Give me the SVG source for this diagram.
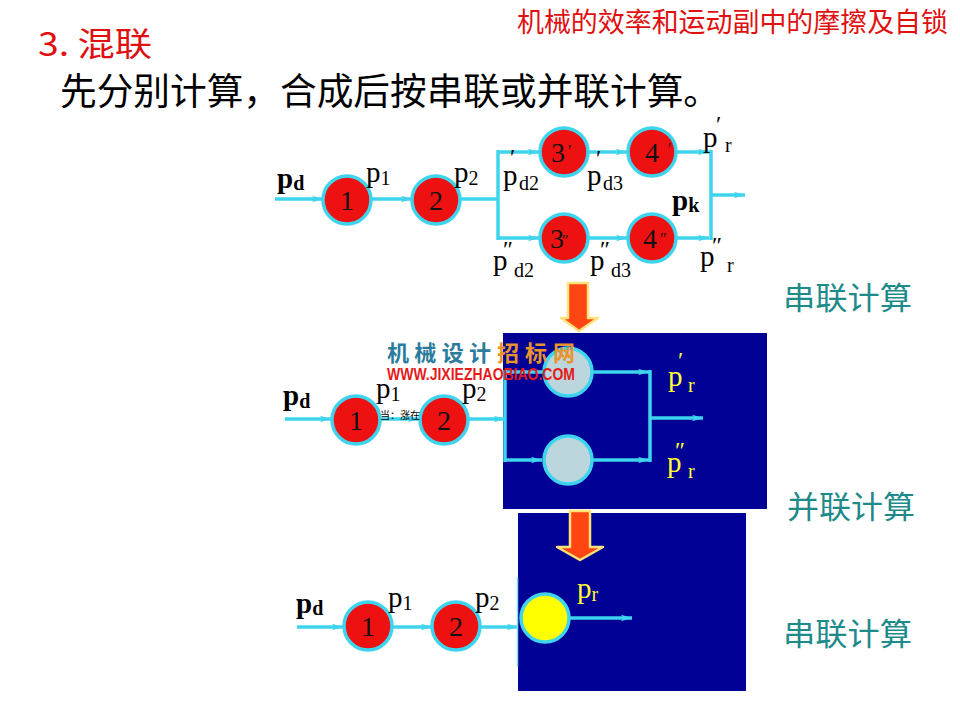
<svg xmlns="http://www.w3.org/2000/svg" width="960" height="720" viewBox="0 0 960 720">
<style>
.bg{fill:#ffffff}
.cjk{font-family:"Noto Sans CJK SC","Noto Sans",sans-serif}
.ser{font-family:"Liberation Serif","Times New Roman",serif}
.ln{stroke:#3fd4ee;stroke-width:3.5;fill:none}
.nd{fill:#ee1111;stroke:#3fd4ee;stroke-width:3.5}
.gy{fill:#bcd6de;stroke:#3fd4ee;stroke-width:3.5}
.yl{fill:#ffff00;stroke:#3fd4ee;stroke-width:3.5}
.num{font-family:"Liberation Serif","Times New Roman",serif;font-size:28px;fill:#111;text-anchor:middle}
.lb{font-family:"Liberation Serif","Times New Roman",serif;font-size:29px;fill:#000}
.lby{font-family:"Liberation Serif","Times New Roman",serif;font-size:29px;fill:#ffff33}
.sub{font-size:20px}
.pr{font-size:24px}
.cp{font-family:"Liberation Serif","Times New Roman",serif;font-size:16px;fill:#111}
.teal{fill:#1e8a8a;font-size:31px}
.panel{fill:#010196}
.dn{fill:#ff4512;stroke:#ffe27a;stroke-width:2.5;stroke-linejoin:round}
</style>
<defs>
<marker id="ah" markerUnits="userSpaceOnUse" markerWidth="12" markerHeight="8" refX="11" refY="4" orient="auto">
<path d="M0,0.8 L11,4 L0,7.2 L2.5,4 z" fill="#3fd4ee"/>
</marker>
</defs>
<rect class="bg" x="0" y="0" width="960" height="720"/>

<g id="title">
<text class="cjk" x="38" y="56" font-size="33" fill="#e01010" textLength="114" lengthAdjust="spacingAndGlyphs">3. 混联</text>
<text class="cjk" x="60" y="105" font-size="37" fill="#000" textLength="660" lengthAdjust="spacingAndGlyphs">先分别计算，合成后按串联或并联计算。</text>
<text class="cjk" x="517" y="32" font-size="27" fill="#e01010" textLength="431" lengthAdjust="spacingAndGlyphs">机械的效率和运动副中的摩擦及自锁</text>
</g>

<g id="panels">
<rect class="panel" x="503" y="333" width="264" height="176"/>
<rect class="panel" x="518" y="513" width="228" height="178"/>
</g>

<g id="connectors">
<line class="ln" x1="275" y1="199" x2="323" y2="199" marker-end="url(#ah)"/>
<line class="ln" x1="371" y1="199" x2="412" y2="199" marker-end="url(#ah)"/>
<line class="ln" x1="460" y1="199" x2="499" y2="199"/>
<line class="ln" x1="498" y1="150" x2="498" y2="240"/>
<line class="ln" x1="498" y1="152" x2="539" y2="152" marker-end="url(#ah)"/>
<line class="ln" x1="498" y1="238" x2="539" y2="238" marker-end="url(#ah)"/>
<line class="ln" x1="588" y1="152" x2="627" y2="152" marker-end="url(#ah)"/>
<line class="ln" x1="588" y1="238" x2="627" y2="238" marker-end="url(#ah)"/>
<line class="ln" x1="677" y1="152" x2="709" y2="152" marker-end="url(#ah)"/>
<line class="ln" x1="677" y1="238" x2="709" y2="238" marker-end="url(#ah)"/>
<line class="ln" x1="711" y1="150" x2="711" y2="240"/>
<line class="ln" x1="711" y1="195" x2="745" y2="195" marker-end="url(#ah)"/>
<line class="ln" x1="285" y1="419" x2="331" y2="419" marker-end="url(#ah)"/>
<line class="ln" x1="380" y1="419" x2="419" y2="419" marker-end="url(#ah)"/>
<line class="ln" x1="468" y1="419" x2="505" y2="419" marker-end="url(#ah)"/>
<line class="ln" x1="505" y1="370" x2="505" y2="462"/>
<line class="ln" x1="505" y1="372" x2="543" y2="372"/>
<line class="ln" x1="505" y1="460" x2="542" y2="460" marker-end="url(#ah)"/>
<line class="ln" x1="592" y1="372" x2="649" y2="372" marker-end="url(#ah)"/>
<line class="ln" x1="592" y1="460" x2="649" y2="460" marker-end="url(#ah)"/>
<line class="ln" x1="650" y1="370" x2="650" y2="462"/>
<line class="ln" x1="650" y1="418" x2="703" y2="418" marker-end="url(#ah)"/>
<line class="ln" x1="297" y1="627" x2="343" y2="627" marker-end="url(#ah)"/>
<line class="ln" x1="393" y1="627" x2="432" y2="627" marker-end="url(#ah)"/>
<line class="ln" x1="480" y1="627" x2="518" y2="627" marker-end="url(#ah)"/>
<line x1="517.5" y1="577" x2="517.5" y2="667" stroke="#7fe0f2" stroke-width="1.5"/>
<line class="ln" x1="570" y1="618" x2="632" y2="618" marker-end="url(#ah)"/>
</g>

<g id="arrows">
<polygon class="dn" points="568,283 588,283 588,318 598,318 579,331 561,318 568,318"/>
<polygon class="dn" points="570,511 590,511 590,547 603,547 580,560 557,547 570,547"/>
</g>

<g id="top-diagram">
<g id="t-n1"><circle class="nd" cx="347" cy="200" r="24"/><text class="num" x="347" y="210">1</text></g>
<g id="t-n2"><circle class="nd" cx="436" cy="200" r="24"/><text class="num" x="436" y="210">2</text></g>
<g id="t-n3a"><circle class="nd" cx="564" cy="152" r="24"/><text class="num" x="558" y="162">3</text><text class="cp" x="568" y="156">′</text></g>
<g id="t-n4a"><circle class="nd" cx="652" cy="152" r="24"/><text class="num" x="652" y="162">4</text><text class="cp" x="668" y="154">′</text></g>
<g id="t-n3b"><circle class="nd" cx="564" cy="238" r="24"/><text class="num" x="557" y="248">3</text><text class="cp" x="562" y="246">″</text></g>
<g id="t-n4b"><circle class="nd" cx="652" cy="238" r="24"/><text class="num" x="650" y="248">4</text><text class="cp" x="660" y="244">″</text></g>
<g id="t-labels">
<text class="lb" x="277" y="188" font-weight="bold">p<tspan class="sub" dy="2">d</tspan></text>
<text class="lb" x="366" y="182">p<tspan class="sub" dy="3">1</tspan></text>
<text class="lb" x="454" y="182">p<tspan class="sub" dy="3">2</tspan></text>
<text class="lb" x="503" y="185">p</text><text class="ser pr" x="510" y="165">′</text><text class="ser sub" x="519" y="190">d2</text>
<text class="lb" x="587" y="185">p</text><text class="ser pr" x="596" y="166">′</text><text class="ser sub" x="603" y="190">d3</text>
<text class="lb" x="493" y="270">p</text><text class="ser pr" x="503" y="257">″</text><text class="ser sub" x="514" y="277">d2</text>
<text class="lb" x="590" y="270">p</text><text class="ser pr" x="600" y="257">″</text><text class="ser sub" x="611" y="277">d3</text>
<text class="lb" x="703" y="147">p</text><text class="ser pr" x="716" y="132">′</text><text class="ser sub" x="725" y="152">r</text>
<text class="lb" x="700" y="266">p</text><text class="ser pr" x="712" y="253">″</text><text class="ser sub" x="727" y="272">r</text>
<text class="lb" x="672" y="210" font-weight="bold">p<tspan class="sub" dy="2">k</tspan></text>
</g>
</g>

<g id="middle-diagram">
<g id="m-n1"><circle class="nd" cx="356" cy="420" r="24"/><text class="num" x="356" y="430">1</text></g>
<g id="m-n2"><circle class="nd" cx="444" cy="420" r="24"/><text class="num" x="444" y="430">2</text></g>
<g id="m-n3"><circle class="gy" cx="568" cy="372" r="24"/></g>
<g id="m-n4"><circle class="gy" cx="568" cy="460" r="24"/></g>
<g id="m-labels">
<text class="lb" x="283" y="405" font-weight="bold">p<tspan class="sub" dy="3">d</tspan></text>
<text class="lb" x="376" y="398">p<tspan class="sub" dy="3">1</tspan></text>
<text class="lb" x="462" y="398">p<tspan class="sub" dy="3">2</tspan></text>
<text class="lby" x="668" y="386">p</text><text class="ser pr" x="678" y="368" fill="#ffff33">′</text><text class="ser sub" x="688" y="392" fill="#ffff33">r</text>
<text class="lby" x="667" y="472">p</text><text class="ser pr" x="675" y="458" fill="#ffff33">″</text><text class="ser sub" x="688" y="478" fill="#ffff33">r</text>
<text class="cjk" x="380" y="419" font-size="10" fill="#000">当：涨在</text>
</g>
<g id="watermark">
<text class="cjk" x="387" y="361" font-size="22" font-weight="bold" fill="#2b7c9c" textLength="104" lengthAdjust="spacing">机械设计</text>
<text class="cjk" x="497" y="361" font-size="22" font-weight="bold" fill="#e8942a" textLength="78" lengthAdjust="spacing">招标网</text>
<text x="387" y="380" font-family="Liberation Sans, Arial, sans-serif" font-size="16" font-weight="bold" fill="#e51a1a" textLength="188" lengthAdjust="spacingAndGlyphs">WWW.JIXIEZHAOBIAO.COM</text>
</g>
</g>

<g id="bottom-diagram">
<g id="b-n1"><circle class="nd" cx="368" cy="626" r="24"/><text class="num" x="368" y="636">1</text></g>
<g id="b-n2"><circle class="nd" cx="456" cy="626" r="24"/><text class="num" x="456" y="636">2</text></g>
<g id="b-n3"><circle class="yl" cx="545" cy="618" r="24"/></g>
<g id="b-labels">
<text class="lb" x="296" y="613" font-weight="bold" font-size="26">p<tspan class="sub" dy="2">d</tspan></text>
<text class="lb" x="388" y="607" font-size="26">p<tspan class="sub" dy="3">1</tspan></text>
<text class="lb" x="475" y="607" font-size="26">p<tspan class="sub" dy="3">2</tspan></text>
<text class="lby" x="577" y="598" font-size="26">p<tspan class="sub" dy="3">r</tspan></text>
</g>
</g>

<g id="side-labels">
<text class="cjk teal" x="783" y="309" textLength="129" lengthAdjust="spacingAndGlyphs">串联计算</text>
<text class="cjk teal" x="787" y="518" textLength="128" lengthAdjust="spacingAndGlyphs">并联计算</text>
<text class="cjk teal" x="783" y="645" textLength="129" lengthAdjust="spacingAndGlyphs">串联计算</text>
</g>
</svg>
